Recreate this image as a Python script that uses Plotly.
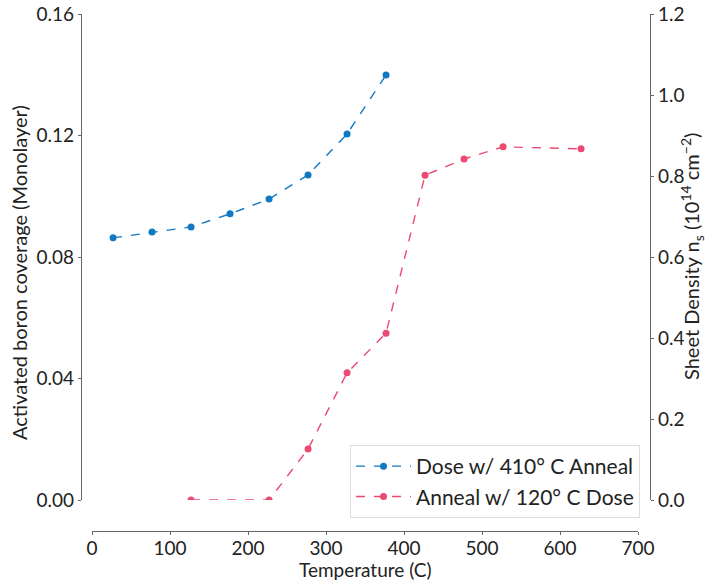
import plotly.graph_objects as go

blue_x = [27, 77, 127, 177, 227, 277, 327, 377]
blue_y = [0.0863, 0.0882, 0.0899, 0.0942, 0.0991, 0.1070, 0.1205, 0.1399]
red_x = [127, 227, 277, 327, 377, 427, 477, 527, 627]
red_y = [0.0, 0.0, 0.126, 0.314, 0.412, 0.802, 0.842, 0.872, 0.867]

blue_name = "Dose w/ 410° C Anneal"
red_name = "Anneal w/ 120° C Dose"
x_title = "Temperature (C)"
y_title = "Activated boron coverage (Monolayer)"
y2_title = "Sheet Density n<sub>s</sub> (10<sup>14</sup> cm<sup>−2</sup>)"

BLUE = "#1179c4"
RED = "#ec4a70"
FONT = "Lato"
AX = "#666666"

fig = go.Figure()
fig.add_trace(go.Scatter(x=blue_x, y=blue_y, name=blue_name, mode="lines+markers",
                         line=dict(color=BLUE, dash="dash", width=1.4),
                         marker=dict(color=BLUE, size=7), yaxis="y"))
fig.add_trace(go.Scatter(x=red_x, y=red_y, name=red_name, mode="lines+markers",
                         line=dict(color=RED, dash="dash", width=1.4),
                         marker=dict(color=RED, size=7), yaxis="y2"))

W, H = 707, 581
l, r, t, b = 81, 57, 14, 50
pw, ph = W - l - r, H - t - b
xd0 = (92 - l) / pw
xd1 = (638 - l) / pw
yd0 = (531 - 500) / ph

tickfont = dict(family=FONT, size=19, color="#222222")
titlefont = dict(family=FONT, size=20, color="#222222")

axis_common = dict(showgrid=False, zeroline=False, showline=True, linecolor=AX, linewidth=1.2,
                   ticks="outside", ticklen=3, tickwidth=1, tickcolor=AX, tickfont=tickfont,
                   automargin=False, ticklabeloverflow="allow")

fig.update_layout(
    width=W, height=H,
    margin=dict(l=l, r=r, t=t, b=b, autoexpand=False),
    paper_bgcolor="white", plot_bgcolor="white",
    font=dict(family=FONT, color="#222222"),
    xaxis=dict(domain=[xd0, xd1], range=[0, 700], anchor="free", position=0,
               ticklabelstandoff=-3,
               tickvals=[0, 100, 200, 300, 400, 500, 600, 700], **axis_common),
    yaxis=dict(domain=[yd0, 1], range=[0, 0.16], anchor="free", position=0,
               tickvals=[0, 0.04, 0.08, 0.12, 0.16], tickformat=".2f", **axis_common),
    yaxis2=dict(domain=[yd0, 1], range=[0, 1.2], anchor="free", position=1, overlaying="y",
                side="right", tickvals=[0, 0.2, 0.4, 0.6, 0.8, 1.0, 1.2], tickformat=".1f",
                **axis_common),
    legend=dict(x=(640 - l) / pw, y=(531 - 518) / ph, xanchor="right", yanchor="bottom",
                bgcolor="rgba(255,255,255,0.8)", bordercolor="#dddddd", borderwidth=1,
                itemwidth=55,
                font=dict(family=FONT, size=21, color="#222222"), tracegroupgap=0),
    showlegend=True,
    annotations=[
        dict(text=x_title, xref="paper", yref="paper", x=(365 - l) / pw, y=(531 - 569) / ph,
             xanchor="center", yanchor="middle", showarrow=False,
             font=dict(family=FONT, size=19, color="#222222")),
        dict(text=y_title, xref="paper", yref="paper", x=(19 - l) / pw, y=(531 - 273) / ph,
             xanchor="center", yanchor="middle", showarrow=False, textangle=-90, font=titlefont),
        dict(text=y2_title, xref="paper", yref="paper", x=(692 - l) / pw, y=(531 - 257) / ph,
             xanchor="center", yanchor="middle", showarrow=False, textangle=-90, font=titlefont),
    ],
)

fig.write_html("out.html", config={"displayModeBar": False},
               post_script="document.body.style.margin='0';")
